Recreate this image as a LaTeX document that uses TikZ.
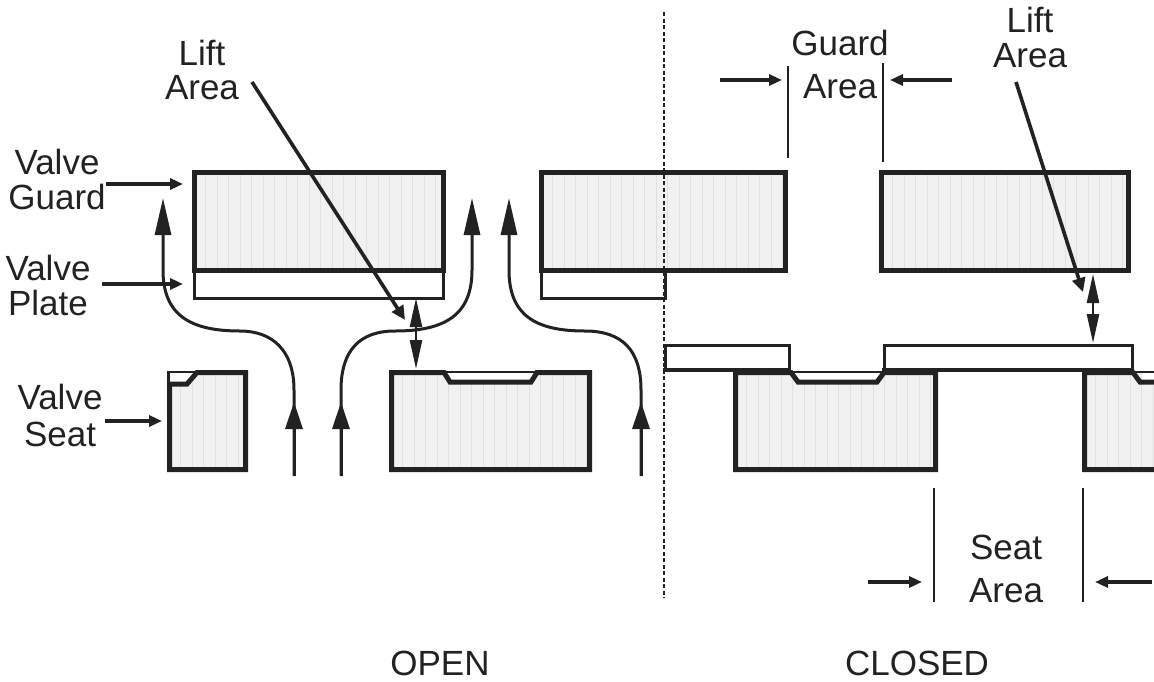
\documentclass[tikz,border=0pt]{standalone}
\usepackage{fontspec}
\setmainfont{Liberation Sans}
\usetikzlibrary{arrows.meta, positioning}

\definecolor{inkk}{HTML}{222222}
\definecolor{blockfill}{HTML}{F1F1F1}
\definecolor{hatchline}{HTML}{E0E0E0}

\begin{document}
\begin{tikzpicture}[x=1pt, y=-1pt, inkk,
      lbl/.style={font=\fontsize{35}{35}\selectfont, text=inkk, inner sep=0pt, align=center},
      body/.style={draw=inkk, line width=5pt, line join=miter},
      plate/.style={draw=inkk, line width=3pt, fill=white, inner sep=0pt, anchor=north west},
      flow/.style={-{Triangle[length=27pt, width=17pt]}, line width=3pt},
      flowtop/.style={-{Triangle[length=37pt, width=16pt]}, line width=3pt},
      call/.style={-{Triangle[length=13pt, width=11pt]}, line width=3.4pt},
      point/.style={-{Triangle[length=14pt, width=13pt]}, line width=3.6pt},
      lift/.style={{Triangle[length=29pt, width=12pt]}-{Triangle[length=29pt, width=12pt]}, line width=2.4pt},
      dim/.style={line width=1.3pt}]

    \useasboundingbox (0,0) rectangle (1154,681);

    % ---- Hatched block: x0, y0, x1, y1 ----
    \newcommand{\hatchblock}[4]{
      \fill[blockfill] (#1,#2) rectangle (#3,#4);
      \pgfmathsetmacro{\hatchnext}{#1+11.5}
      \foreach \hx in {#1,\hatchnext,...,#3}
        \draw[hatchline, line width=0.8pt] (\hx,#2) -- (\hx,#4);
    }

    % ---- Guards ----
    \node[plate, minimum width=249pt, minimum height=27pt] (platea) at (193,270) {};
    \node[plate, minimum width=124pt, minimum height=27pt] (plateb) at (540,270) {};
    \hatchblock{194}{172}{444}{271}
    \hatchblock{541}{172}{786}{271}
    \hatchblock{881}{172}{1129}{271}
    \draw[body] (194.5,172.5) rectangle (443.5,270.5);
    \draw[body] (541.5,172.5) rectangle (785.5,270.5);
    \draw[body] (881.5,172.5) rectangle (1128.5,270.5);

    % ---- Open seats ----
    \hatchblock{169}{372}{246}{470}
    \fill[white] (171,373) rectangle (193,382);
    \draw[inkk, line width=2.4pt] (168,372) -- (196,372);
    \draw[body] (169.5,383) -- (169.5,469.5) -- (245.5,469.5) -- (245.5,372.5) -- (197,372.5) -- (187,384) -- (169,384);
    \draw[inkk, line width=3pt] (168.5,371) -- (168.5,386);
    \hatchblock{391}{372}{590}{470}
    \fill[white] (448,373) rectangle (534,381);
    \draw[inkk, line width=2pt] (446,372) -- (536,372);
    \draw[body] (391.5,372.5) -- (444,372.5) -- (450,382) -- (531,382) -- (537,372.5) -- (589.5,372.5) -- (589.5,469.5) -- (391.5,469.5) -- cycle;

    % ---- Closed seats ----
    \hatchblock{735}{372}{936}{470}
    \fill[white] (794,373) rectangle (880,381);
    \draw[inkk, line width=2pt] (790,372) -- (884,372);
    \draw[body] (735.5,372.5) -- (791,372.5) -- (798,382) -- (877,382) -- (884,372.5) -- (935.5,372.5) -- (935.5,469.5) -- (735.5,469.5) -- cycle;
    \hatchblock{1084}{372}{1154}{470}
    \fill[white] (1142,373) rectangle (1154,381);
    \draw[inkk, line width=2pt] (1134,372) -- (1154,372);
    \draw[body] (1154,469.5) -- (1084.5,469.5) -- (1084.5,372.5) -- (1133,372.5) -- (1140,382) -- (1154,382);

    % ---- Closed plates ----
    \node[plate, minimum width=124pt, minimum height=25pt] (platec) at (664,344) {};
    \node[plate, minimum width=248pt, minimum height=25pt] (plated) at (883,344) {};
    \draw[inkk, line width=3.6pt] (663,369.5) -- (790,369.5);
    \draw[inkk, line width=3.6pt] (882,369.5) -- (1133,369.5);

    % ---- Divider ----
    \draw[dim, dashed, dash pattern=on 4pt off 2.5pt] (664,12) -- (664,598);

    % ---- Flow arrows ----
    \coordinate (flowa-in) at (294,476);
    \coordinate (flowb-in) at (341,476);
    \coordinate (flowc-in) at (641,476);
    \draw[flowtop] (flowa-in) -- (294,390) .. controls (294,350) and (272,331) .. (240,331)
      .. controls (190,331) and (163,315) .. (163,270) -- (163,198);
    \draw[flow] (flowa-in) -- (294,402);
    \draw[flowtop] (flowb-in) -- (341,390) .. controls (341,350) and (360,331) .. (395,331)
      .. controls (445,331) and (472,315) .. (472,270) -- (472,198);
    \draw[flow] (flowb-in) -- (341,402);
    \draw[flowtop] (flowc-in) -- (641,390) .. controls (641,350) and (622,331) .. (585,331)
      .. controls (535,331) and (509,315) .. (509,270) -- (509,198);
    \draw[flow] (flowc-in) -- (641,402);

    % ---- Labels ----
    \node[lbl] (liftb) at (202,53) {Lift};
    \node[lbl] (areab) at (202,88) {Area};
    \node[lbl] (guardc) at (840,43) {Guard};
    \node[lbl] (aread) at (840,87) {Area};
    \node[lbl] (lifte) at (1030,20) {Lift};
    \node[lbl] (areae) at (1030,56) {Area};
    \node[lbl] (seatf) at (1006,547) {Seat};
    \node[lbl] (areaf) at (1006,591) {Area};
    \node[lbl] (valveg) at (57,162) {Valve};
    \node[lbl] (guardg) at (57,197) {Guard};
    \node[lbl] (valvep) at (48,268) {Valve};
    \node[lbl] (platep) at (48,303) {Plate};
    \node[lbl] (valves) at (60,397) {Valve};
    \node[lbl] (seats) at (60,434) {Seat};
    \node[lbl] (open) at (440,663) {OPEN};
    \node[lbl] (closed) at (917,663) {CLOSED};

    % ---- Callouts ----
    \draw[call] (guardg.east |- 0,184) -- (183,184);
    \draw[call] (102,284) -- (183,284);
    \draw[call] (105,421) -- (162,421);

    % ---- Lift area ----
    \coordinate (lifta-top) at (416,298);
    \coordinate (lifta-bot) at (416,369);
    \coordinate (liftb-top) at (1093,274);
    \coordinate (liftb-bot) at (1093,343);
    \draw[lift] (lifta-top) -- (lifta-bot);
    \draw[lift] (liftb-top) -- (liftb-bot);
    \draw[point] (252,82) -- (405,320);
    \draw[point] (1016,82) -- (1083,292);

    % ---- Guard and seat area ----
    \draw[dim] (788,66) -- (788,158);
    \draw[dim] (883,63) -- (883,162);
    \draw[call] (720,80) -- (782,80);
    \draw[call] (952,80) -- (890,80);
    \draw[dim] (934,488) -- (934,602);
    \draw[dim] (1083,488) -- (1083,602);
    \draw[call] (868,582) -- (922,582);
    \draw[call] (1152,582) -- (1095,582);

\end{tikzpicture}
\end{document}
